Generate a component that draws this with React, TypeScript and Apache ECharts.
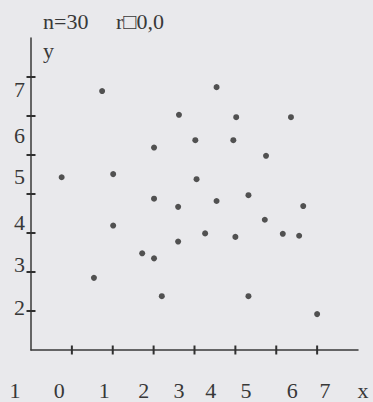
import { useEffect, useRef } from "react";
import * as echarts from "echarts";

// Data in axis units (one unit = one tick step)
const xValues = [0.75, 1.74, 2.01, 2.01, 3.01, 3.01, 3.62, 3.6, 4.02, 4.05, 4.26, 4.54, 4.54, 4.95, 5.02, 5.0, 5.32, 5.72, 5.75, 6.16, 6.36, 6.56, 6.66, 3.6, 1.54, 2.72, 3.01, 3.2, 5.32, 7.0];
const yValues = [4.43, 6.64, 4.51, 3.19, 5.19, 3.88, 6.03, 3.67, 5.38, 4.38, 2.99, 6.74, 3.82, 5.38, 5.97, 2.9, 3.97, 3.34, 4.98, 2.98, 5.97, 2.93, 3.69, 2.78, 1.85, 2.48, 2.35, 1.38, 1.38, 0.92];

// Tick marks
const xTickValues = [1, 2, 3, 4, 5, 6, 7];
const yTickValues = [1, 2, 3, 4, 5, 6, 7];

// Tick labels (as printed) and where they sit on the axes
const xLabelTexts = ["1", "0", "1", "2", "3", "4", "5", "6", "7", "x"];
const xLabelAt = [-0.39, 0.69, 1.79, 2.76, 3.62, 4.4, 5.26, 6.39, 7.19, 8.12];
const yLabelTexts = ["2", "3", "4", "5", "6", "7"];
const yLabelAt = [1.1, 2.18, 3.28, 4.44, 5.51, 6.67];

const titleText = "n=30\u00a0\u00a0\u00a0\u00a0\u00a0r\u25a10,0";
const yName = "y";

const FONT = "'Liberation Serif', 'DejaVu Serif', serif";
const INK = "#383838";
const BG = "#e9e9ec";

function lookup(texts: string[], at: number[]) {
  return (v: number) => {
    const i = at.findIndex((p) => Math.abs(p - v) < 1e-6);
    return i >= 0 ? texts[i] : "";
  };
}

function tickSeries(name: string, data: number[][], vertical: boolean) {
  return {
    type: "custom",
    name,
    xAxisIndex: 0,
    yAxisIndex: 0,
    clip: false,
    silent: true,
    z: 5,
    data,
    renderItem: (_params: any, api: any) => {
      const p = api.coord([api.value(0), api.value(1)]);
      const h = 4.5;
      const shape = vertical
        ? { x1: p[0], y1: p[1] - h, x2: p[0], y2: p[1] + h }
        : { x1: p[0] - h, y1: p[1], x2: p[0] + h, y2: p[1] };
      return {
        type: "line",
        shape,
        style: { stroke: "#303030", lineWidth: 2 },
      };
    },
  };
}

export default function App() {
  const ref = useRef<HTMLDivElement>(null);
  useEffect(() => {
    if (!ref.current) return;
    const chart = echarts.init(ref.current, undefined, { renderer: "svg" });
    const unit = 40.875;
    const left0 = 31;
    chart.setOption({
      animation: false,
      backgroundColor: BG,
      textStyle: { fontFamily: FONT, color: INK },
      title: {
        text: titleText,
        left: 43,
        top: 10,
        padding: 0,
        textStyle: { fontFamily: FONT, fontSize: 22, fontWeight: "normal", color: INK },
      },
      grid: [
        { left: left0, top: 38, width: unit * 8, height: 312 },
        { left: left0 - unit * 0.5, top: 38, width: unit * 8.75, height: 312 },
      ],
      xAxis: [
        {
          type: "value",
          gridIndex: 0,
          min: 0,
          max: 8,
          interval: 1,
          axisLine: { show: true, lineStyle: { color: INK, width: 1.5 } },
          axisTick: { show: false },
          axisLabel: { show: false },
          splitLine: { show: false },
        },
        {
          type: "value",
          gridIndex: 1,
          min: -0.5,
          max: 8.25,
          axisLine: { show: false },
          axisTick: { show: false },
          axisLabel: {
            show: true,
            customValues: xLabelAt,
            formatter: lookup(xLabelTexts, xLabelAt),
            margin: 29,
            fontSize: 22,
            fontFamily: FONT,
            color: INK,
          },
          splitLine: { show: false },
        },
      ],
      yAxis: [
        {
          type: "value",
          gridIndex: 0,
          min: 0,
          max: 8,
          interval: 1,
          name: yName,
          nameLocation: "end",
          nameGap: -12,
          nameTextStyle: {
            fontFamily: FONT,
            fontSize: 22,
            color: INK,
            align: "left",
            verticalAlign: "middle",
            padding: [0, 0, 0, 12],
          },
          axisLine: { show: true, lineStyle: { color: INK, width: 1.5 } },
          axisTick: { show: false },
          axisLabel: {
            show: true,
            customValues: yLabelAt,
            formatter: lookup(yLabelTexts, yLabelAt),
            margin: 6,
            fontSize: 22,
            fontFamily: FONT,
            color: INK,
          },
          splitLine: { show: false },
        },
        {
          type: "value",
          gridIndex: 1,
          min: 0,
          max: 8,
          show: false,
        },
      ],
      series: [
        tickSeries("xTicks", xTickValues.map((t) => [t, 0]), true),
        tickSeries("yTicks", yTickValues.map((t) => [0, t]), false),
        {
          type: "scatter",
          name: "points",
          xAxisIndex: 0,
          yAxisIndex: 0,
          symbol: "circle",
          symbolSize: 6,
          itemStyle: { color: "#2a2a2a" },
          data: xValues.map((x, i) => [x, yValues[i]]),
        },
      ],
    });
    return () => chart.dispose();
  }, []);
  return (
    <div
      ref={ref}
      style={{ position: "fixed", left: 0, top: 0, width: 373, height: 402, background: BG }}
    />
  );
}
